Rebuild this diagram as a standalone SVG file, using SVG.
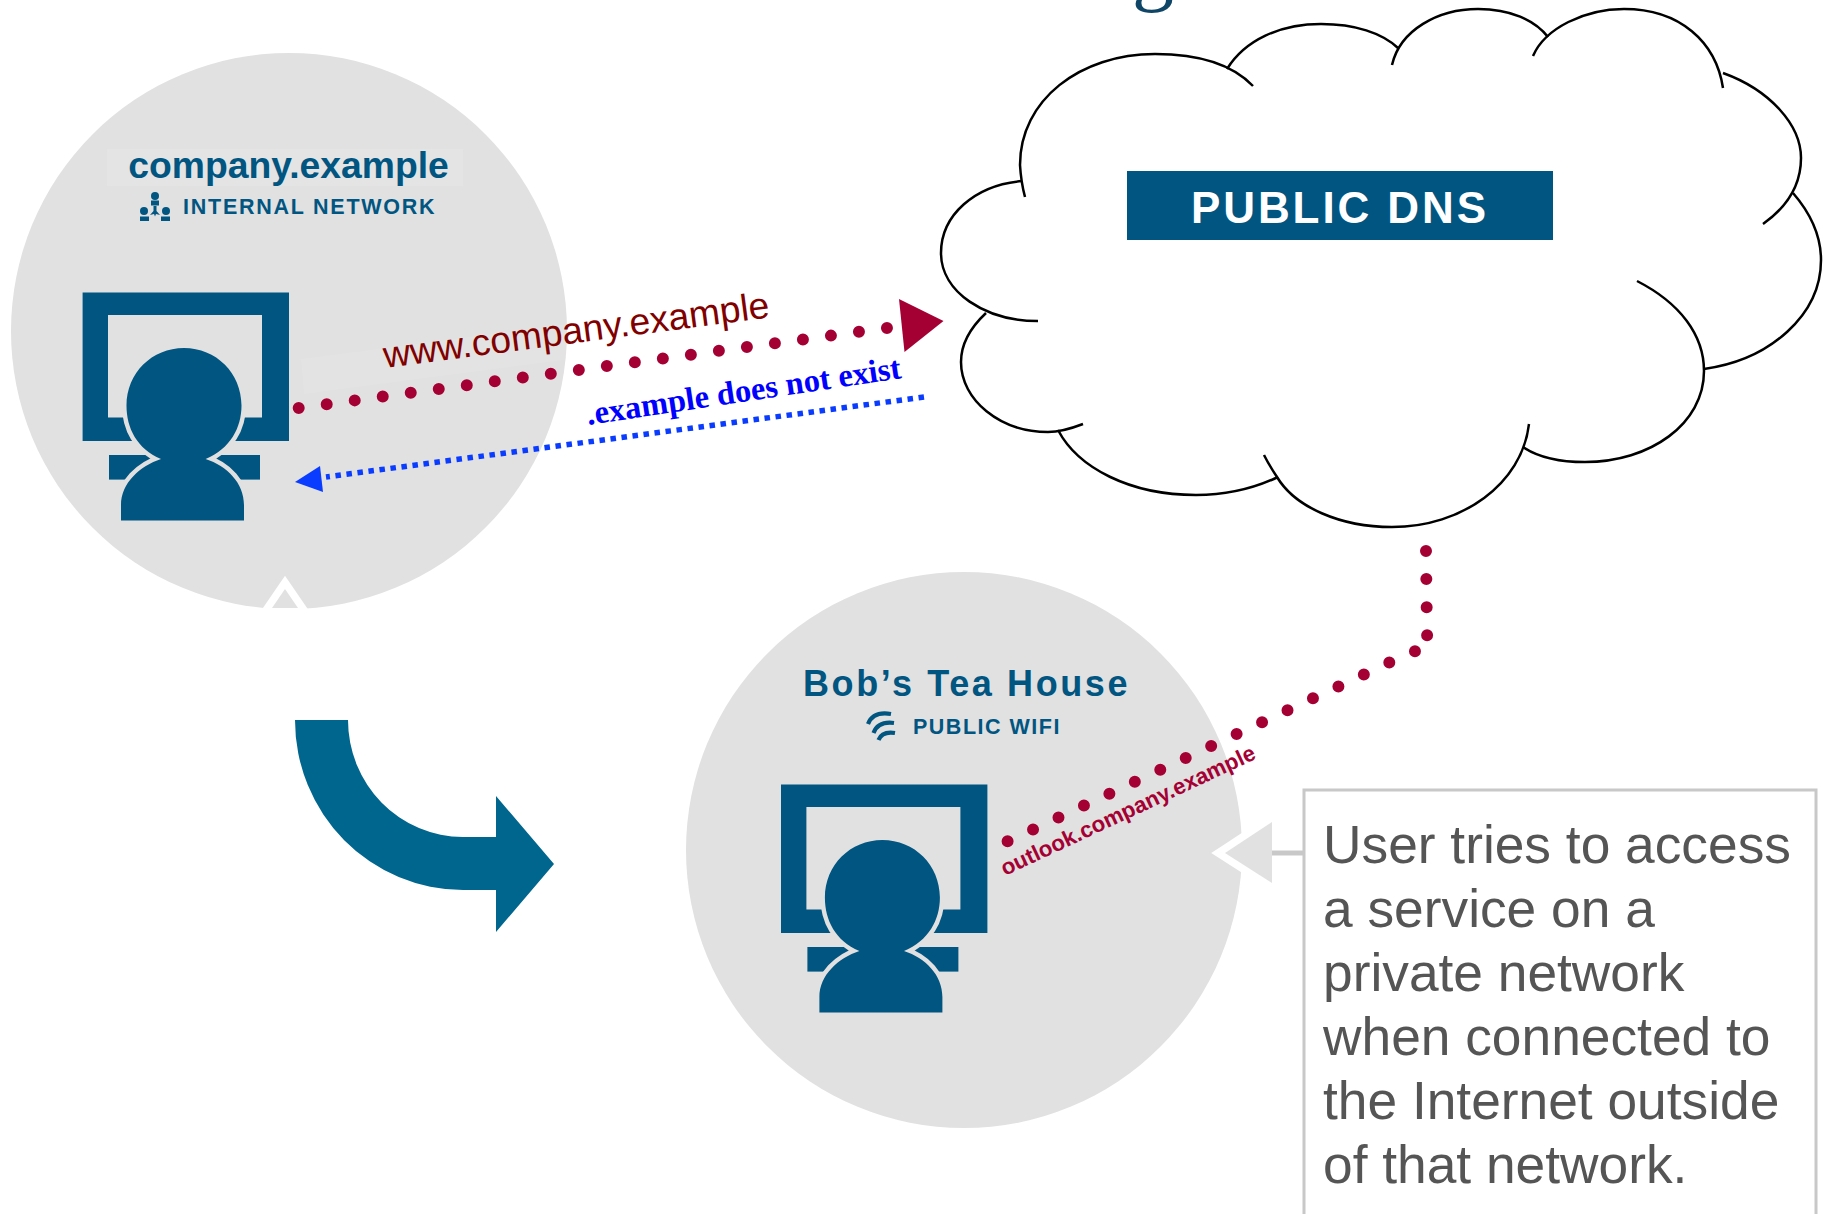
<svg xmlns="http://www.w3.org/2000/svg" xmlns:xlink="http://www.w3.org/1999/xlink" width="1830" height="1214" viewBox="0 0 1830 1214">
<style>
.zone{fill:#e1e1e1}
.navy{fill:#005581}
.sans{font-family:"Liberation Sans",Arial,sans-serif}
.hd{font-weight:700;fill:#005581}
.cloud path{fill:none;stroke:#000;stroke-width:2.500}
.dots{fill:none;stroke:#a50034;stroke-width:12;stroke-linecap:round}
.tri{fill:#e1e1e1;stroke:#fff;stroke-width:15;paint-order:stroke;stroke-linejoin:miter;stroke-miterlimit:10}
</style>
<defs>
<g id="user">
<path class="navy" fill-rule="evenodd" d="M82.6,292.6H289V441H82.6ZM108,315V417.5H262V315Z"/>
<rect class="navy" x="109" y="455" width="151" height="24.6"/>
<path class="navy" style="stroke:#e1e1e1;stroke-width:9;paint-order:stroke" d="M121,520.500V505C121,483 140,466 161,459C137,449 126.500,428 126.500,405.500C126.500,373 152,348 184,348C216,348 241.500,373 241.500,405.500C241.500,428 230,449 205.600,459C227,466 244,483 244,505V520.500Z"/>
</g>
</defs>
<rect width="1830" height="1214" fill="#fff"/>
<text class="title" x="1153" y="-5" text-anchor="middle" font-family="'Liberation Serif',serif" font-size="84" fill="#0f4566">g</text>

<g id="internal-network">
<circle class="zone" cx="289" cy="331" r="278"/>
<polygon class="tri" points="285,589 272,608 298,608"/>
<rect x="107" y="149" width="356" height="37" fill="#fff" fill-opacity=".13"/>
<text class="sans hd" x="288.500" y="178" font-size="37.300" text-anchor="middle">company.example</text>
<text class="sans hd" x="183" y="213.500" font-size="21.500" letter-spacing="1.750">INTERNAL NETWORK</text>
<g id="network-icon" class="navy">
<circle cx="155" cy="196" r="4"/><circle cx="144" cy="211" r="4"/><circle cx="166" cy="211" r="4"/>
<rect x="151" y="200.500" width="8" height="5"/><rect x="140" y="216.500" width="9" height="4.500"/><rect x="161" y="216.500" width="9" height="4.500"/>
<path d="M153.500,206H156.500V211L160,215L156,214L155,216.500L154,214L150,215L153.500,211Z"/>
</g>
<use xlink:href="#user" href="#user"/>
</g>

<g id="tea-house">
<circle class="zone" cx="964" cy="850" r="278"/>
<text class="sans hd" x="803" y="696" font-size="36" letter-spacing="2.600">Bob’s Tea House</text>
<text class="sans hd" x="913" y="733.500" font-size="21.500" letter-spacing="1.500">PUBLIC WIFI</text>
<g id="wifi-icon" fill="none" stroke="#005581" stroke-width="4.200">
<path d="M868,724Q873,711 891,714"/><path d="M873.500,733Q878,721 894,723"/><path d="M878.500,740Q882,731 895,733"/>
</g>
<use xlink:href="#user" href="#user" transform="translate(698.400,492)"/>
</g>

<g id="public-dns">
<g class="cloud">
<path d="M1025,197Q1021,182 1020,165C1020,100 1080,54 1155,54C1195,54 1230,62 1253,86"/>
<path d="M1227,69C1245,40 1280,24 1321,24C1355,24 1382,33 1398,48"/>
<path d="M1392,65C1400,30 1438,9 1478,9C1510,9 1535,20 1548,37"/>
<path d="M1533,56C1545,28 1585,9 1624,9C1680,9 1716,42 1723,88"/>
<path d="M1723,73C1770,90 1801,125 1801,158C1801,185 1787,207 1763,224"/>
<path d="M1793,193C1812,215 1821,237 1821,260C1821,315 1770,360 1704,369"/>
<path d="M1637,281C1680,303 1704,335 1704,371C1704,424 1650,462 1585,462C1558,462 1538,457 1523,447"/>
<path d="M1529,424C1522,484 1462,527 1392,527C1340,527 1295,507 1277,477Q1269,465 1264,455"/>
<path d="M1278,477C1255,488 1225,495 1196,495C1130,495 1078,468 1058,430"/>
<path d="M1083,424C1070,429 1058,432 1048,432C1000,432 961,400 961,362C961,345 970,328 986,313"/>
<path d="M1038,321C985,321 941,292 941,253C941,215 975,185 1022,181"/>
</g>
<rect class="navy" x="1127" y="171" width="426" height="69"/>
<text class="sans" x="1191" y="222.500" font-size="44" font-weight="700" fill="#fff" letter-spacing="2.900">PUBLIC DNS</text>
</g>

<g id="note">
<rect x="1304" y="790" width="512" height="440" fill="#fff" stroke="#c8c8c8" stroke-width="3"/>
<g class="sans" font-size="53.300" fill="#555">
<text x="1323" y="863">User tries to access</text>
<text x="1323" y="927">a service on a</text>
<text x="1323" y="991">private network</text>
<text x="1323" y="1055">when connected to</text>
<text x="1323" y="1119">the Internet outside</text>
<text x="1323" y="1183">of that network.</text>
</g>
</g>

<g id="connectors">
<polygon class="tri" points="1225,853 1272,822 1272,883"/>
<path d="M1272,853H1304" stroke="#c8c8c8" stroke-width="5" fill="none"/>
<path id="move-arrow" fill="#00668e" d="M295,720H348A115,117 0 0 0 463,837H496V796L554,864L496,932V890H463A168,170 0 0 1 295,720Z"/>
<polygon points="304,394 301,359 568,324 572,359" fill="#fff" fill-opacity=".08"/>
<path class="dots" stroke-dasharray="0 28.270" d="M298.700,408L887,328"/>
<polygon points="899,299 943.500,321 904.500,352" fill="#a50034"/>
<path d="M924,397L326,477" fill="none" stroke="#0a3cff" stroke-width="5.500" stroke-dasharray="5.500 5.600"/>
<polygon points="295,482 320,466 323,492" fill="#0a3cff"/>
<path class="dots" stroke-dasharray="0 28.100" d="M1426,551L1427,635Q1434,657 1414,651L1003,843.500"/>
<text class="sans" transform="translate(385,368) rotate(-7.500)" font-size="37.300" fill="#800000">www.company.example</text>
<text transform="translate(588,425) rotate(-8.500)" font-family="'Liberation Serif',serif" font-weight="700" font-size="32.500" fill="#0000ff">.example does not exist</text>
<text class="sans" transform="translate(1005,876) rotate(-25)" font-size="22.300" font-weight="700" fill="#a50034">outlook.company.example</text>
</g>
</svg>
